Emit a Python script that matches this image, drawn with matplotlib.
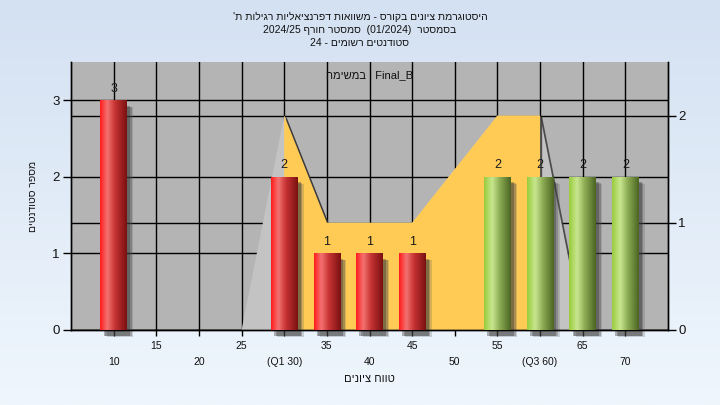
import numpy as np
import matplotlib
matplotlib.use("Agg")
import matplotlib.pyplot as plt
from matplotlib.colors import LinearSegmentedColormap
from matplotlib.lines import Line2D
import matplotlib.patheffects as pe

# ---------------- data ----------------
categories = [10, 15, 20, 25, 30, 35, 40, 45, 50, 55, 60, 65, 70]
counts = [3, 0, 0, 0, 2, 1, 1, 1, 0, 2, 2, 2, 2]
# frequency-polygon area (right axis)
area_values = [0, 0, 0, 0, 2, 1, 1, 1, 1.5, 2, 2, 0, 0]
q1 = 30
q3 = 60
pass_grade = 55
left_ticks = [0, 1, 2, 3]
right_ticks = [0, 1, 2]

title_lines = [
    "היסטוגרמת ציונים בקורס - משוואות דפרנציאליות רגילות ת'",
    "בסמסטר  (01/2024)  סמסטר חורף 2024/25",
    "סטודנטים רשומים - 24",
]
legend_text = "Final_B : במשימה"
x_label = "טווח ציונים"
y_label = "מספר סטודנטים"


def visual(s):
    """Simple RTL-paragraph bidi reordering to visual order."""
    def kind(c):
        if '\u0590' <= c <= '\u05ff':
            return 'R'
        if c.isascii() and c.isalnum():
            return 'L'
        return 'N'
    kinds = [kind(c) for c in s]
    n = len(s)
    res = kinds[:]
    i = 0
    while i < n:
        if kinds[i] == 'N':
            j = i
            while j < n and kinds[j] == 'N':
                j += 1
            prev = kinds[i - 1] if i > 0 else 'R'
            nxt = kinds[j] if j < n else 'R'
            r = 'L' if (prev == 'L' and nxt == 'L') else 'R'
            for k in range(i, j):
                res[k] = r
            i = j
        else:
            i += 1
    chars = list(s)[::-1]
    res = res[::-1]
    mirror = {'(': ')', ')': '(', '[': ']', ']': '['}
    out = []
    i = 0
    while i < n:
        if res[i] == 'L':
            j = i
            while j < n and res[j] == 'L':
                j += 1
            out.extend(chars[i:j][::-1])
            i = j
        else:
            out.append(mirror.get(chars[i], chars[i]))
            i += 1
    return ''.join(out)


plt.rcParams['font.family'] = ['Liberation Sans', 'DejaVu Sans']

W, H = 720, 405
fig = plt.figure(figsize=(W / 100, H / 100), dpi=100)

# background gradient
bg = fig.add_axes([0, 0, 1, 1])
bg.imshow(np.linspace(0, 1, 256)[:, None],
          cmap=LinearSegmentedColormap.from_list('bg', ['#d4e1f2', '#eff6fd']),
          aspect='auto', extent=[0, 1, 0, 1])
bg.set_axis_off()
bg.set_zorder(-10)

L, R, T, B = 71, 668, 62, 330
ax = fig.add_axes([L / W, 1 - B / H, (R - L) / W, (B - T) / H])
ax2 = ax.twinx()
ax.set_zorder(2)
ax2.set_zorder(1)
ax.patch.set_visible(False)
ax2.patch.set_visible(True)
ax2.patch.set_facecolor('#b4b4b4')

x = np.arange(len(categories))

# ---- right-axis area layer (below bars) ----
ax2.set_axisbelow(True)
ax2.grid(axis='y', color='black', lw=1)
for xi in x:
    ax2.axvline(xi, color='black', lw=1, zorder=0.6)
for v in left_ticks:
    ax2.add_line(Line2D([0, 1], [v, v], transform=ax.get_yaxis_transform(),
                        color='black', lw=1, zorder=0.6))

shadow_fx = [pe.SimplePatchShadow(offset=(1.5, -1.0), shadow_rgbFace='#3a3a3a', alpha=0.85),
             pe.Normal()]
poly = ax2.fill_between(x, 0, area_values, color='#c3c3c3', lw=0, zorder=1)
poly.set_path_effects(shadow_fx)
i1, i3 = categories.index(q1), categories.index(q3)
orange = ax2.fill_between(x[i1:i3 + 1], 0, area_values[i1:i3 + 1],
                          color='#ffcb55', lw=0, zorder=1.1)
orange.set_path_effects(shadow_fx)

# ---- bars ----
red_cmap = LinearSegmentedColormap.from_list(
    'red', [(0, '#ff1a1a'), (0.27, '#f47272'), (0.55, '#c83434'), (1, '#7a1010')])
green_cmap = LinearSegmentedColormap.from_list(
    'green', [(0, '#98cc3c'), (0.3, '#c8e68e'), (0.6, '#8aaa52'), (1, '#4b6522')])

bars = ax.bar(x, counts, width=0.62, facecolor='none', edgecolor='none',
              zorder=2, clip_on=False)
bar_fx = [pe.SimplePatchShadow(offset=(4.5, -5.0), shadow_rgbFace='#606060', alpha=0.25),
          pe.SimplePatchShadow(offset=(3.5, -4.5), shadow_rgbFace='#404040', alpha=0.30),
          pe.SimplePatchShadow(offset=(2.3, -4.0), shadow_rgbFace='#303030', alpha=0.35),
          pe.Normal()]
grad = np.linspace(0, 1, 128)[None, :]
for rect, cat, c in zip(bars, categories, counts):
    if c == 0:
        continue
    rect.set_path_effects(bar_fx)
    cmap = green_cmap if cat >= pass_grade else red_cmap
    x0, w, h = rect.get_x(), rect.get_width(), rect.get_height()
    im = ax.imshow(grad, cmap=cmap, extent=[x0, x0 + w, 0, h], aspect='auto',
                   interpolation='bicubic', zorder=3)
    im.set_clip_path(rect)

ax.bar_label(bars, labels=[str(c) if c else '' for c in counts], padding=4,
             fontsize=9, color='#1a1a1a', zorder=4)

# ---- axes setup ----
ax.set_xlim(-1, len(categories))
ax.set_ylim(0, 3.5)
ax2.set_ylim(0, 2.5)

ax.set_yticks(left_ticks)
ax2.set_yticks(right_ticks)

major_idx = x[1::2]
minor_idx = x[0::2]

def tick_text(c):
    if c == q1:
        return f"(Q1 {c})"
    if c == q3:
        return f"(Q3 {c})"
    return str(c)

ax.set_xticks(major_idx, [tick_text(categories[i]) for i in major_idx])
ax.set_xticks(minor_idx, [tick_text(categories[i]) for i in minor_idx], minor=True)
ax.tick_params(axis='x', which='major', length=4, width=1, pad=4, labelsize=7.5,
               labelcolor='#111111')
ax.tick_params(axis='x', which='minor', length=4, width=1, pad=15.5, labelsize=7.5,
               labelcolor='#111111')
ax.tick_params(axis='y', length=5.5, width=1, pad=2.5, labelsize=9.5, labelcolor='#111111')
ax2.tick_params(axis='y', length=6, width=1, pad=1.5, labelsize=9.5, labelcolor='#111111')

for a in (ax, ax2):
    a.spines['top'].set_visible(False)
    for s in ('left', 'right', 'bottom'):
        a.spines[s].set_linewidth(1)
        a.spines[s].set_color('black')

ax.set_ylabel(visual(y_label), fontsize=7.5, labelpad=10, color='#111111')
ax.set_xlabel(visual(x_label), fontsize=8, color='#111111')
ax.xaxis.set_label_coords(0.5, -0.163)

ax.text(0.5, 0.951, visual(legend_text), transform=ax.transAxes, ha='center',
        va='center', fontsize=8, color='#111111', zorder=5)

for k, line in enumerate(title_lines):
    fig.text(0.5, 1 - (17 + 13 * k) / H, visual(line), ha='center', va='center',
             fontsize=7.5, color='#111111')

fig.savefig('out.png', dpi=100)
